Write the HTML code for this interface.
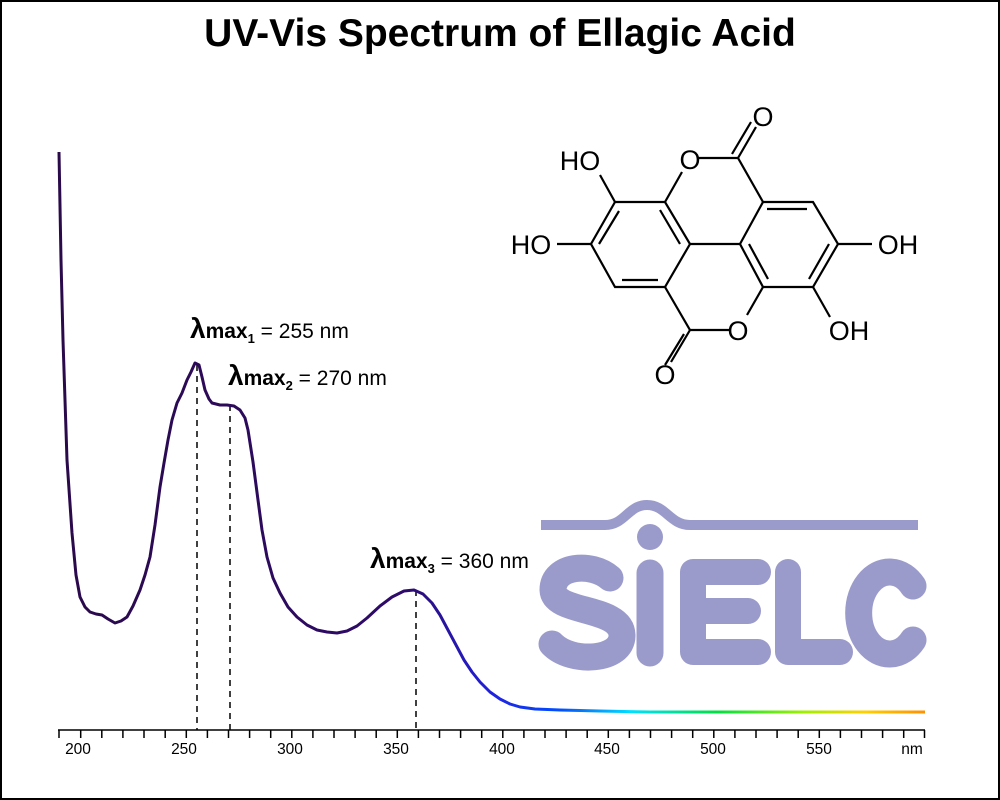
<!DOCTYPE html>
<html><head><meta charset="utf-8"><style>
html,body{margin:0;padding:0;background:#fff}
svg{display:block}
text{font-family:"Liberation Sans",Arial,sans-serif}
</style></head><body>
<svg width="1000" height="800" viewBox="0 0 1000 800" xmlns="http://www.w3.org/2000/svg">
<rect x="1" y="1" width="998" height="798" fill="#fff" stroke="#000" stroke-width="2"/>
<text x="500" y="46" text-anchor="middle" font-size="39" font-weight="bold">UV-Vis Spectrum of Ellagic Acid</text>
<defs>
<linearGradient id="g" gradientUnits="userSpaceOnUse" x1="59" y1="0" x2="925" y2="0">
<stop offset="0" stop-color="#2a0a4a"/>
<stop offset="0.40" stop-color="#2e0a6a"/>
<stop offset="0.50" stop-color="#2020e0"/>
<stop offset="0.58" stop-color="#0050ff"/>
<stop offset="0.66" stop-color="#00e0ff"/>
<stop offset="0.76" stop-color="#00e040"/>
<stop offset="0.86" stop-color="#a0f000"/>
<stop offset="0.93" stop-color="#ffd000"/>
<stop offset="1" stop-color="#ff9000"/>
</linearGradient>
</defs>
<!-- logo -->
<g fill="none" stroke="#9b9bcb" stroke-linecap="round" stroke-linejoin="round">
<path d="M541,525 H605 C625,525 628,505 647,505 C666,505 670,525 690,525 H918" stroke-width="10" stroke-linecap="butt"/>
<path d="M610,578 C592,562 553,565 553,590 C554,614 621,606 622,635 C623,661 571,664 552,644" stroke-width="27"/>
<line x1="650" y1="573" x2="650" y2="653" stroke-width="27"/>
<path d="M758,572 H693 V652 H758 M693,611 H748" stroke-width="26"/>
<path d="M788,572 V652 H840" stroke-width="26"/>
<path d="M913,586 A31,41 0 1 0 913,640" stroke-width="27"/>
</g>
<circle cx="650" cy="537" r="13" fill="#9b9bcb"/>
<!-- molecule -->
<g stroke="#000" stroke-width="2.2" fill="none">
<path d="M615,202 L591,244 L615,287 L665,287 L690,244 L665,202 Z"/>
<path d="M740,244 L763,202 L813,202 L838,244 L813,287 L763,287 Z"/>
<path d="M690,244 L740,244"/>
<path d="M619,211 L599,244 M622,280 L658,280 M680,244 L660,210"/>
<path d="M767,209 L807,209 M829,244 L809,279 M749,244 L768,279"/>
<path d="M665,202 L682,172 M697,158 L738,158 L763,202 M738,158 L756,127 M732,154 L751,122"/>
<path d="M763,287 L747,315 M729,330 L690,330 L665,287 M690,330 L671,362 M684,334 L665,365"/>
<path d="M615,202 L600,175 M591,244 L557,244 M838,244 L872,244 M813,287 L830,317"/>
</g>
<g font-size="27" text-anchor="middle">
<text x="763" y="126">O</text>
<text x="690" y="169">O</text>
<text x="580" y="170">HO</text>
<text x="531" y="254">HO</text>
<text x="898" y="254">OH</text>
<text x="849" y="340">OH</text>
<text x="738" y="340">O</text>
<text x="665" y="384">O</text>
</g>
<!-- axis -->
<g stroke="#000" stroke-width="1.5">
<line x1="58" y1="730" x2="925" y2="730"/>
<path d="M59,730v8 M80.7,730v8 M101.8,730v8 M122.9,730v8 M144,730v8 M165.2,730v8 M186.3,730v8 M207.4,730v8 M228.5,730v8 M249.6,730v8 M270.7,730v8 M291.8,730v8 M312.9,730v8 M334,730v8 M355.1,730v8 M376.2,730v8 M397.3,730v8 M418.4,730v8 M439.5,730v8 M460.6,730v8 M481.7,730v8 M502.8,730v8 M523.9,730v8 M545,730v8 M566.1,730v8 M587.2,730v8 M608.3,730v8 M629.4,730v8 M650.5,730v8 M671.6,730v8 M692.7,730v8 M713.8,730v8 M734.9,730v8 M756,730v8 M777.1,730v8 M798.2,730v8 M819.3,730v8 M840.4,730v8 M861.5,730v8 M882.6,730v8 M903.7,730v8 M924.5,730v8"/>
</g>
<g font-size="15.5" text-anchor="middle">
<text x="78" y="754">200</text><text x="184" y="754">250</text><text x="290" y="754">300</text><text x="396" y="754">350</text><text x="502" y="754">400</text><text x="607" y="754">450</text><text x="713" y="754">500</text><text x="819" y="754">550</text><text x="912" y="754">nm</text>
</g>
<g stroke="#000" stroke-width="1.5" stroke-dasharray="6,5">
<line x1="197" y1="365" x2="197" y2="730"/>
<line x1="230" y1="405" x2="230" y2="730"/>
<line x1="416" y1="590" x2="416" y2="730"/>
</g>
<path fill="none" stroke="url(#g)" stroke-width="3" stroke-linejoin="round" d="M59,152 L61,260 L63,340 L67,460 L72,533 L76,575 L80,597 L85,607 L90,612 L96,614 L102,615 L108,619 L115,623 L121,621 L127,617 L133,606 L140,590 L145,575 L150,557 L155,525 L160,487 L164,463 L168,440 L172,420 L177,403 L182,393 L187,380 L191,372 L195,363 L199,365 L202,377 L205,390 L209,399 L212,403 L220,405 L227,405 L234,406 L240,410 L245,418 L248,430 L253,462 L258,500 L262,530 L267,557 L273,578 L280,593 L288,607 L297,617 L307,625 L317,630 L327,632 L337,633 L347,631 L357,626 L367,618 L380,606 L392,597 L404,591 L414,590 L423,594 L432,603 L440,615 L448,630 L456,645 L464,660 L472,672 L480,682 L490,692 L500,699 L510,704 L520,707 L535,709 L560,710 L600,711 L650,712 L700,712 L800,712 L925,712"/>
<g font-size="21">
<text x="190" y="338"><tspan font-size="28" font-weight="bold">λ</tspan><tspan font-weight="bold">max</tspan><tspan font-weight="bold" font-size="13" dy="5">1</tspan><tspan dy="-5"> = 255 nm</tspan></text>
<text x="228" y="385"><tspan font-size="28" font-weight="bold">λ</tspan><tspan font-weight="bold">max</tspan><tspan font-weight="bold" font-size="13" dy="5">2</tspan><tspan dy="-5"> = 270 nm</tspan></text>
<text x="370" y="568"><tspan font-size="28" font-weight="bold">λ</tspan><tspan font-weight="bold">max</tspan><tspan font-weight="bold" font-size="13" dy="5">3</tspan><tspan dy="-5"> = 360 nm</tspan></text>
</g>
</svg>
</body></html>
